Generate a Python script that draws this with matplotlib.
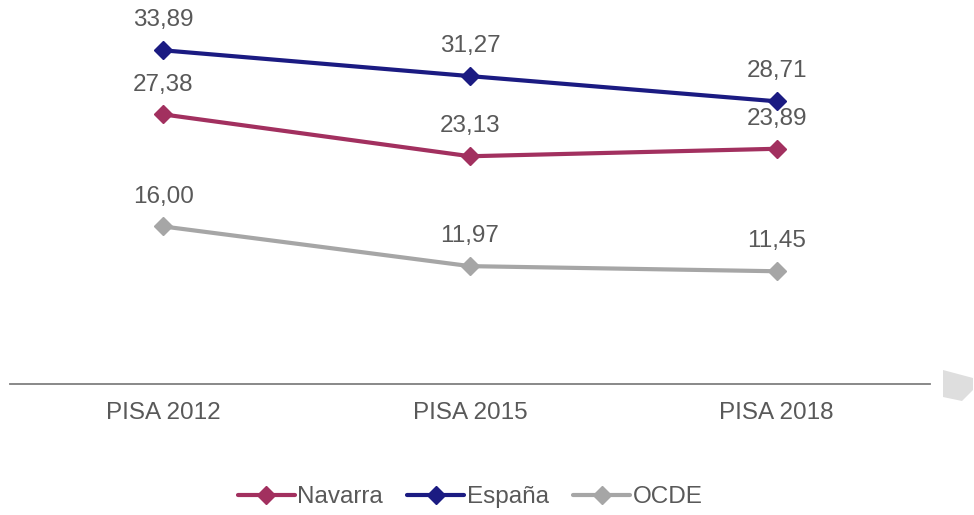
import matplotlib.pyplot as plt
from matplotlib.patches import Polygon

plt.rcParams['font.family'] = ['Liberation Sans', 'DejaVu Sans']

categories = ['PISA 2012', 'PISA 2015', 'PISA 2018']
navarra = [27.38, 23.13, 23.89]
espana = [33.89, 31.27, 28.71]
ocde = [16.00, 11.97, 11.45]

series = [
    ('Navarra', navarra, '#A2305F'),
    ('España', espana, '#1B1B82'),
    ('OCDE', ocde, '#A6A6A6'),
]

text_color = '#595959'
fs = 17.5

fig = plt.figure(figsize=(9.74, 5.15), dpi=100)
ax = fig.add_axes([10 / 974, 1 - 384 / 515, 920 / 974, 384 / 515])

x = [i + 0.5 for i in range(len(categories))]
for name, vals, color in series:
    ax.plot(x, vals, color=color, lw=3, marker='D', markersize=9.5,
            label=name, solid_capstyle='round')
    for xi, v in zip(x, vals):
        ax.annotate(f'{v:.2f}'.replace('.', ','), (xi, v), xytext=(0, 21.5),
                    textcoords='offset points', ha='center', va='center',
                    fontsize=fs, color=text_color)

ax.set_xlim(0, 3)
ax.set_ylim(0, 39)
ax.set_xticks(x)
ax.set_xticklabels(categories, fontsize=fs, color=text_color)
ax.set_yticks([])
ax.tick_params(axis='x', length=0, pad=13)
for s in ['top', 'right', 'left']:
    ax.spines[s].set_visible(False)
ax.spines['bottom'].set_color('#7F7F7F')
ax.spines['bottom'].set_linewidth(1.3)
ax.patch.set_alpha(0)

leg = fig.legend(loc='center', bbox_to_anchor=(470 / 974, 1 - 497 / 515),
                 ncol=3, frameon=False, fontsize=fs, handlelength=2.35,
                 handletextpad=0.1, columnspacing=1.0)
for t in leg.get_texts():
    t.set_color(text_color)

# grey corner artefact at the right edge
fig.patches.append(Polygon(
    [(943 / 974, 1 - 370 / 515), (973 / 974, 1 - 378 / 515),
     (973 / 974, 1 - 390 / 515), (962 / 974, 1 - 401 / 515),
     (943 / 974, 1 - 397 / 515)],
    closed=True, transform=fig.transFigure, facecolor='#DEDEDE',
    edgecolor='none'))

fig.savefig('out.png', dpi=100)
